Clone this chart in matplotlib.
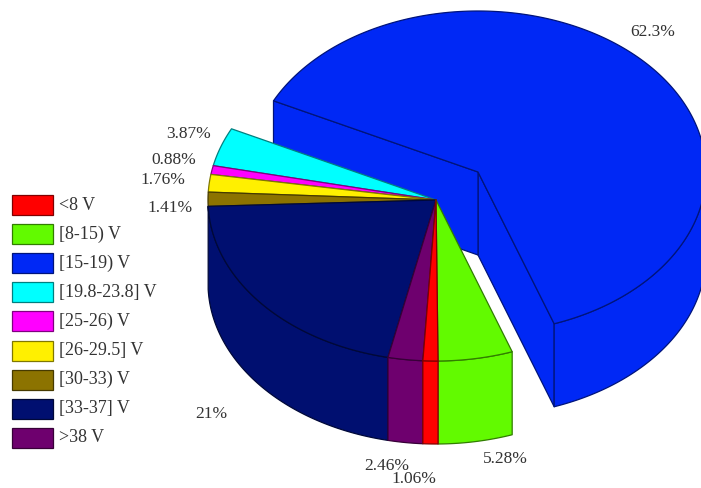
import numpy as np
import matplotlib
matplotlib.use('Agg')
import matplotlib.pyplot as plt
from matplotlib.patches import Polygon, Rectangle
import matplotlib.colors as mcolors

plt.rcParams['font.family'] = ['Liberation Serif', 'DejaVu Serif']

# slices in legend order, going counter-clockwise from the red one
categories = ['<8 V', '[8-15) V', '[15-19) V', '[19.8-23.8] V', '[25-26) V',
              '[26-29.5] V', '[30-33) V', '[33-37] V', '>38 V']
shares = [1.06, 5.28, 62.3, 3.87, 0.88, 1.76, 1.41, 21, 2.46]
share_labels = ['1.06%', '5.28%', '62.3%', '3.87%', '0.88%', '1.76%', '1.41%', '21%', '2.46%']
colors = ['#ff0000', '#62fa00', '#0028f5', '#00ffff', '#ff00ff',
          '#fff000', '#8c7300', '#000f70', '#6e006e']

# pie geometry in pixels
CX, CY = 436, 200
RX, RY = 228, 161
DEPTH = 83
START = -93.3
EXPLODE_DX, EXPLODE_DY = 42, -28
EXPLODED = 2

label_pos = [(414, 479), (505, 459), (653, 32), (189, 134), (174, 160),
             (163, 180), (170, 208), (211, 414), (387, 466)]


def rim(a0, a1, cx, cy):
    t = np.radians(np.linspace(a0, a1, max(int(abs(a1 - a0)) * 2, 2)))
    return np.column_stack([cx + RX * np.cos(t), cy - RY * np.sin(t)])


def edge_of(c):
    r, g, b = mcolors.to_rgb(c)
    return (r * 0.5, g * 0.5, b * 0.5)


def draw_slice(ax, a0, a1, c, cx, cy, exploded=False):
    ec = edge_of(c)
    kw = dict(facecolor=c, edgecolor=ec, linewidth=0.9, joinstyle='round')
    down = np.array([0, DEPTH])
    apex = np.array([cx, cy])
    if exploded:
        # cut faces of the pulled-out slice
        p0 = rim(a0, a0, cx, cy)[0]
        p1 = rim(a1, a1, cx, cy)[0]
        ax.add_patch(Polygon([apex, p0, p0 + down, apex + down], **kw))
        ax.add_patch(Polygon([apex, p1, p1 + down, apex + down], **kw))
    # outer wall, only the front half can be seen
    lo = max(a0, -180)
    hi = min(a1, 0)
    if a0 >= 180:
        lo, hi = a0 - 360, a1 - 360
    if hi > lo:
        top = rim(lo, hi, cx, cy)
        ax.add_patch(Polygon(np.vstack([top, (top + down)[::-1]]), **kw))
    pts = np.vstack([apex, rim(a0, a1, cx, cy)])
    ax.add_patch(Polygon(pts, **kw))


fig = plt.figure(figsize=(7.01, 4.88), dpi=100)
ax = fig.add_axes([0, 0, 1, 1])
ax.set_xlim(0, 701)
ax.set_ylim(488, 0)
ax.axis('off')

sweep = np.array(shares) / np.sum(shares) * 360
ends = START + np.cumsum(sweep)
starts = ends - sweep

# big slice first, the others sit in front of its cut faces
draw_slice(ax, starts[EXPLODED], ends[EXPLODED], colors[EXPLODED],
           CX + EXPLODE_DX, CY + EXPLODE_DY, exploded=True)

# back to front so the front walls end up on top
for i in [3, 4, 5, 6, 7, 8, 1, 0]:
    draw_slice(ax, starts[i], ends[i], colors[i], CX, CY)

for lab, (x, y) in zip(share_labels, label_pos):
    ax.text(x, y, lab, ha='center', va='center', fontsize=12.5, color='#333333')

# legend column
for i, (name, c) in enumerate(zip(categories, colors)):
    y = 205 + i * 29.1
    ax.add_patch(Rectangle((12, y - 10), 41, 20, facecolor=c, edgecolor=edge_of(c), linewidth=0.9))
    ax.text(59, y, name, ha='left', va='center', fontsize=13, color='#333333')

fig.savefig('out.png', dpi=100)
